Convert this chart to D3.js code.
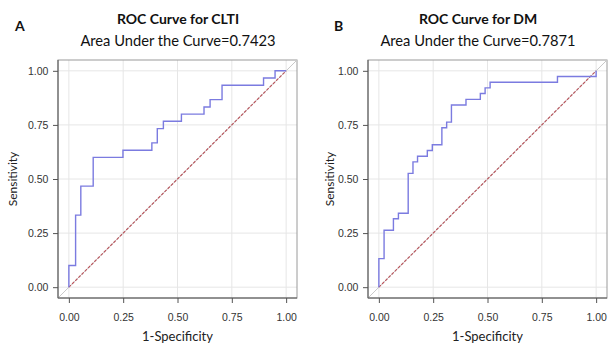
<!DOCTYPE html>
<html><head><meta charset="utf-8">
<script src="https://cdn.jsdelivr.net/npm/d3@7"></script>
<style>body{margin:0;background:#fff}svg{display:block}</style>
</head><body>
<svg id="c" width="608" height="343"></svg>
<script>
// ROC data (1-Specificity, Sensitivity)
const clti_fpr = [0, 0, 0.031, 0.031, 0.055, 0.055, 0.112, 0.112, 0.249, 0.249, 0.382, 0.382, 0.407, 0.407, 0.435, 0.435, 0.518, 0.518, 0.622, 0.622, 0.650, 0.650, 0.705, 0.705, 0.896, 0.896, 0.949, 0.949, 1.0];
const clti_tpr = [0, 0.100, 0.100, 0.333, 0.333, 0.467, 0.467, 0.600, 0.600, 0.633, 0.633, 0.667, 0.667, 0.733, 0.733, 0.767, 0.767, 0.800, 0.800, 0.833, 0.833, 0.867, 0.867, 0.933, 0.933, 0.967, 0.967, 1.0, 1.0];
const dm_fpr = [0, 0, 0.024, 0.024, 0.067, 0.067, 0.090, 0.090, 0.135, 0.135, 0.157, 0.157, 0.178, 0.178, 0.223, 0.223, 0.246, 0.246, 0.290, 0.290, 0.312, 0.312, 0.334, 0.334, 0.401, 0.401, 0.467, 0.467, 0.489, 0.489, 0.512, 0.512, 0.822, 0.822, 1.0, 1.0];
const dm_tpr = [0, 0.132, 0.132, 0.263, 0.263, 0.316, 0.316, 0.342, 0.342, 0.526, 0.526, 0.579, 0.579, 0.605, 0.605, 0.632, 0.632, 0.658, 0.658, 0.737, 0.737, 0.763, 0.763, 0.842, 0.842, 0.868, 0.868, 0.895, 0.895, 0.921, 0.921, 0.947, 0.947, 0.974, 0.974, 1.0];
const ticks = [0, 0.25, 0.5, 0.75, 1];
const tickLabels = ["0.00", "0.25", "0.50", "0.75", "1.00"];
const panels = [
  {letter: "A", title: "ROC Curve for CLTI", auc: "Area Under the Curve=0.7423", fpr: clti_fpr, tpr: clti_tpr},
  {letter: "B", title: "ROC Curve for DM", auc: "Area Under the Curve=0.7871", fpr: dm_fpr, tpr: dm_tpr}
];
const layout = [
  {left: 58, right: 297, top: 60, bottom: 298, ylabX: 13, letterX: 15, titleX: 178},
  {left: 368, right: 607, top: 60, bottom: 298, ylabX: 330, letterX: 334, titleX: 478}
];
const svg = d3.select("#c");
const font = "Lato, 'Open Sans', sans-serif";
const tickFont = "'Liberation Sans Narrow', 'Liberation Sans', Arial, sans-serif";

panels.forEach((p, i) => {
  const L = layout[i];
  const x = d3.scaleLinear().domain([-0.05, 1.05]).range([L.left, L.right]);
  const y = d3.scaleLinear().domain([-0.05, 1.05]).range([L.bottom, L.top]);
  const g = svg.append("g");
  // gridlines
  g.selectAll(".gx").data(ticks).join("line")
    .attr("x1", d => x(d)).attr("x2", d => x(d)).attr("y1", L.top).attr("y2", L.bottom)
    .attr("stroke", "#e6e6e6").attr("stroke-width", 1);
  g.selectAll(".gy").data(ticks).join("line")
    .attr("y1", d => y(d)).attr("y2", d => y(d)).attr("x1", L.left).attr("x2", L.right)
    .attr("stroke", "#e6e6e6").attr("stroke-width", 1);
  // frame
  g.append("rect").attr("x", L.left).attr("y", L.top).attr("width", L.right - L.left).attr("height", L.bottom - L.top)
    .attr("fill", "none").attr("stroke", "#9a9a9a").attr("stroke-width", 1);
  // full-frame gray diagonal
  g.append("line").attr("x1", x(-0.05)).attr("y1", y(-0.05)).attr("x2", x(1.05)).attr("y2", y(1.05))
    .attr("stroke", "#c8c8c8").attr("stroke-width", 1);
  // chance line
  g.append("line").attr("x1", x(0)).attr("y1", y(0)).attr("x2", x(1)).attr("y2", y(1))
    .attr("stroke", "#b9585f").attr("stroke-width", 1.2).attr("stroke-dasharray", "3,1.5");
  // ROC curve
  const pts = p.fpr.map((v, k) => [v, p.tpr[k]]);
  g.append("path").datum(pts)
    .attr("d", d3.line().x(d => x(d[0])).y(d => y(d[1])))
    .attr("fill", "none").attr("stroke", "#7b7be0").attr("stroke-width", 1.4);
  // axes
  const xa = d3.axisBottom(x).tickValues(ticks).tickFormat((d, k) => tickLabels[k]).tickSize(5).tickSizeOuter(0);
  const ya = d3.axisLeft(y).tickValues(ticks).tickFormat((d, k) => tickLabels[k]).tickSize(5).tickSizeOuter(0);
  const gx = g.append("g").attr("transform", `translate(0,${L.bottom})`).call(xa);
  const gy = g.append("g").attr("transform", `translate(${L.left},0)`).call(ya);
  [gx, gy].forEach(a => {
    a.select(".domain").remove();
    a.selectAll("line").attr("stroke", "#555");
    a.selectAll("text").attr("fill", "#333").style("font-family", tickFont).style("font-size", "10.5px");
  });
  gx.selectAll("text").attr("dy", "1.4em");
  gy.selectAll("text").attr("dx", "-0.15em");
  g.append("line").attr("x1", L.left).attr("x2", L.right).attr("y1", L.bottom).attr("y2", L.bottom).attr("stroke", "#555");
  g.append("line").attr("x1", L.left).attr("x2", L.left).attr("y1", L.top).attr("y2", L.bottom).attr("stroke", "#555");
  // labels
  g.append("text").attr("x", (x(0) + x(1)) / 2).attr("y", 341).attr("text-anchor", "middle")
    .style("font-family", font).style("font-size", "13px").attr("fill", "#222").text("1-Specificity");
  g.append("text").attr("transform", `translate(${L.ylabX + 4},${y(0.5)}) rotate(-90)`).attr("text-anchor", "middle")
    .style("font-family", font).style("font-size", "12px").attr("fill", "#222").text("Sensitivity");
  g.append("text").attr("x", L.letterX).attr("y", 31).style("font-family", font).style("font-weight", "bold")
    .style("font-size", "14px").attr("fill", "#111").text(p.letter);
  g.append("text").attr("x", L.titleX).attr("y", 24).attr("text-anchor", "middle").style("font-family", font)
    .style("font-weight", "bold").style("font-size", "14px").attr("fill", "#111").text(p.title);
  g.append("text").attr("x", L.titleX).attr("y", 46).attr("text-anchor", "middle").style("font-family", font)
    .style("font-size", "14.7px").attr("fill", "#111").text(p.auc);
});
</script>
</body></html>
